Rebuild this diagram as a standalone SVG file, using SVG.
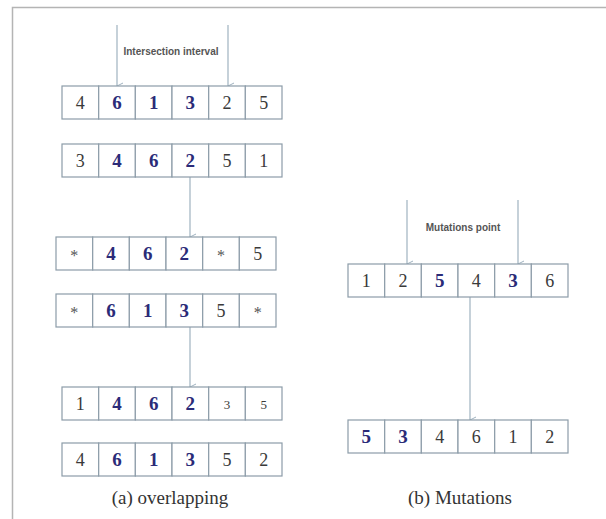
<svg xmlns="http://www.w3.org/2000/svg" width="606" height="519" viewBox="0 0 606 519">
<defs>
<marker id="ah" markerWidth="8" markerHeight="8" refX="4" refY="7" orient="auto-start-reverse" markerUnits="userSpaceOnUse" viewBox="0 0 8 8">
<path d="M1,1 L4,7 L7,1" fill="none" stroke="#9fb2c0" stroke-width="1"/>
</marker>
<style>
.c{fill:#fff;stroke:#8c9ca8;stroke-width:1.2}
.n{font-family:"Liberation Serif",serif;font-size:18px;fill:#3a3a3a;text-anchor:middle}
.b{font-family:"Liberation Serif",serif;font-size:19px;font-weight:bold;fill:#2b2b78;text-anchor:middle}
.s{font-family:"Liberation Serif",serif;font-size:13px;fill:#3a3a3a;text-anchor:middle}
.st{font-family:"Liberation Serif",serif;font-size:16px;fill:#555;text-anchor:middle}
.a{stroke:#9fb2c0;stroke-width:1.2;fill:none;marker-end:url(#ah)}
.lbl{font-family:"Liberation Sans",sans-serif;font-size:10px;font-weight:bold;fill:#555;text-anchor:middle}
.cap{font-family:"Liberation Serif",serif;font-size:19px;fill:#333;text-anchor:middle}
</style>
</defs>
<rect width="606" height="519" fill="#fff"/>
<path d="M12.5,519 V7.5 H606" fill="none" stroke="#b4b4b4" stroke-width="1.5"/>

<g id="connectors">
<line class="a" x1="117" y1="25" x2="117" y2="86"/>
<line class="a" x1="228" y1="25" x2="228" y2="86"/>
<line class="a" x1="190" y1="177" x2="190" y2="237"/>
<line class="a" x1="190" y1="327" x2="190" y2="387"/>
<line class="a" x1="407" y1="200" x2="407" y2="264"/>
<line class="a" x1="518" y1="200" x2="518" y2="264"/>
<line class="a" x1="470" y1="297" x2="470" y2="420"/>
</g>

<g id="label-intersection"><text class="lbl" x="171" y="55">Intersection interval</text></g>
<g id="label-mutations"><text class="lbl" x="463" y="231">Mutations point</text></g>

<g id="row1" transform="translate(62,86)">
<rect class="c" x="0" y="0" width="36.7" height="33"/><rect class="c" x="36.7" y="0" width="36.7" height="33"/><rect class="c" x="73.3" y="0" width="36.7" height="33"/><rect class="c" x="110" y="0" width="36.7" height="33"/><rect class="c" x="146.7" y="0" width="36.7" height="33"/><rect class="c" x="183.3" y="0" width="36.7" height="33"/>
<text class="n" x="18.3" y="23">4</text><text class="b" x="55" y="23">6</text><text class="b" x="91.7" y="23">1</text><text class="b" x="128.3" y="23">3</text><text class="n" x="165" y="23">2</text><text class="n" x="201.7" y="23">5</text>
</g>

<g id="row2" transform="translate(62,144)">
<rect class="c" x="0" y="0" width="36.7" height="33"/><rect class="c" x="36.7" y="0" width="36.7" height="33"/><rect class="c" x="73.3" y="0" width="36.7" height="33"/><rect class="c" x="110" y="0" width="36.7" height="33"/><rect class="c" x="146.7" y="0" width="36.7" height="33"/><rect class="c" x="183.3" y="0" width="36.7" height="33"/>
<text class="n" x="18.3" y="23">3</text><text class="b" x="55" y="23">4</text><text class="b" x="91.7" y="23">6</text><text class="b" x="128.3" y="23">2</text><text class="n" x="165" y="23">5</text><text class="n" x="201.7" y="23">1</text>
</g>

<g id="row3" transform="translate(56,237)">
<rect class="c" x="0" y="0" width="36.7" height="33"/><rect class="c" x="36.7" y="0" width="36.7" height="33"/><rect class="c" x="73.3" y="0" width="36.7" height="33"/><rect class="c" x="110" y="0" width="36.7" height="33"/><rect class="c" x="146.7" y="0" width="36.7" height="33"/><rect class="c" x="183.3" y="0" width="36.7" height="33"/>
<text class="st" x="18.3" y="24">*</text><text class="b" x="55" y="23">4</text><text class="b" x="91.7" y="23">6</text><text class="b" x="128.3" y="23">2</text><text class="st" x="165" y="24">*</text><text class="n" x="201.7" y="23">5</text>
</g>

<g id="row4" transform="translate(56,294)">
<rect class="c" x="0" y="0" width="36.7" height="33"/><rect class="c" x="36.7" y="0" width="36.7" height="33"/><rect class="c" x="73.3" y="0" width="36.7" height="33"/><rect class="c" x="110" y="0" width="36.7" height="33"/><rect class="c" x="146.7" y="0" width="36.7" height="33"/><rect class="c" x="183.3" y="0" width="36.7" height="33"/>
<text class="st" x="18.3" y="24">*</text><text class="b" x="55" y="23">6</text><text class="b" x="91.7" y="23">1</text><text class="b" x="128.3" y="23">3</text><text class="n" x="165" y="23">5</text><text class="st" x="201.7" y="24">*</text>
</g>

<g id="row5" transform="translate(62,387)">
<rect class="c" x="0" y="0" width="36.7" height="33"/><rect class="c" x="36.7" y="0" width="36.7" height="33"/><rect class="c" x="73.3" y="0" width="36.7" height="33"/><rect class="c" x="110" y="0" width="36.7" height="33"/><rect class="c" x="146.7" y="0" width="36.7" height="33"/><rect class="c" x="183.3" y="0" width="36.7" height="33"/>
<text class="n" x="18.3" y="23">1</text><text class="b" x="55" y="23">4</text><text class="b" x="91.7" y="23">6</text><text class="b" x="128.3" y="23">2</text><text class="s" x="165" y="22">3</text><text class="s" x="201.7" y="22">5</text>
</g>

<g id="row6" transform="translate(62,443)">
<rect class="c" x="0" y="0" width="36.7" height="33"/><rect class="c" x="36.7" y="0" width="36.7" height="33"/><rect class="c" x="73.3" y="0" width="36.7" height="33"/><rect class="c" x="110" y="0" width="36.7" height="33"/><rect class="c" x="146.7" y="0" width="36.7" height="33"/><rect class="c" x="183.3" y="0" width="36.7" height="33"/>
<text class="n" x="18.3" y="23">4</text><text class="b" x="55" y="23">6</text><text class="b" x="91.7" y="23">1</text><text class="b" x="128.3" y="23">3</text><text class="n" x="165" y="23">5</text><text class="n" x="201.7" y="23">2</text>
</g>

<g id="mut-row1" transform="translate(348,264)">
<rect class="c" x="0" y="0" width="36.7" height="33"/><rect class="c" x="36.7" y="0" width="36.7" height="33"/><rect class="c" x="73.3" y="0" width="36.7" height="33"/><rect class="c" x="110" y="0" width="36.7" height="33"/><rect class="c" x="146.7" y="0" width="36.7" height="33"/><rect class="c" x="183.3" y="0" width="36.7" height="33"/>
<text class="n" x="18.3" y="23">1</text><text class="n" x="55" y="23">2</text><text class="b" x="91.7" y="23">5</text><text class="n" x="128.3" y="23">4</text><text class="b" x="165" y="23">3</text><text class="n" x="201.7" y="23">6</text>
</g>

<g id="mut-row2" transform="translate(348,420)">
<rect class="c" x="0" y="0" width="36.7" height="33"/><rect class="c" x="36.7" y="0" width="36.7" height="33"/><rect class="c" x="73.3" y="0" width="36.7" height="33"/><rect class="c" x="110" y="0" width="36.7" height="33"/><rect class="c" x="146.7" y="0" width="36.7" height="33"/><rect class="c" x="183.3" y="0" width="36.7" height="33"/>
<text class="b" x="18.3" y="23">5</text><text class="b" x="55" y="23">3</text><text class="n" x="91.7" y="23">4</text><text class="n" x="128.3" y="23">6</text><text class="n" x="165" y="23">1</text><text class="n" x="201.7" y="23">2</text>
</g>

<g id="caption-a"><text class="cap" x="170" y="504">(a) overlapping</text></g>
<g id="caption-b"><text class="cap" x="460" y="504">(b) Mutations</text></g>
</svg>
